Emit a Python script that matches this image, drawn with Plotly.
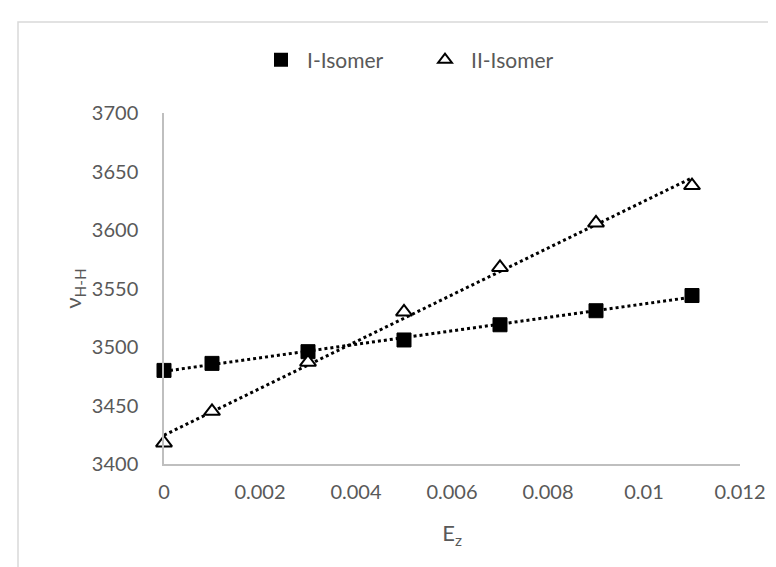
import numpy as np
import plotly.graph_objects as go

ez = [0, 0.001, 0.003, 0.005, 0.007, 0.009, 0.011]
isomer1 = [3480, 3486, 3496, 3506, 3519, 3531, 3544]
isomer2 = [3418, 3445, 3487, 3530, 3568, 3606, 3638]
x_ticks = [0, 0.002, 0.004, 0.006, 0.008, 0.01, 0.012]
x_tick_labels = ["0", "0.002", "0.004", "0.006", "0.008", "0.01", "0.012"]
y_ticks = [3400, 3450, 3500, 3550, 3600, 3650, 3700]
y_tick_labels = [str(v) for v in y_ticks]

FONT = "Lato"
GRAY = "#595959"

fig = go.Figure()

x_arr = np.array(ez)
for ys in (isomer1, isomer2):
    k, b = np.polyfit(x_arr, np.array(ys), 1)
    xt = [ez[0], ez[-1]]
    fig.add_trace(go.Scatter(
        x=xt, y=[k * v + b for v in xt], mode="lines",
        line=dict(color="black", width=3, dash="dot"),
        showlegend=False, hoverinfo="skip", cliponaxis=False))

fig.add_trace(go.Scatter(
    x=ez, y=isomer1, mode="markers", name="I-Isomer", cliponaxis=False,
    marker=dict(symbol="square", size=14, color="black",
                line=dict(color="black", width=1))))
fig.add_trace(go.Scatter(
    x=ez, y=isomer2, mode="markers", name="II-Isomer", cliponaxis=False,
    marker=dict(symbol="triangle-up", size=14, color="white",
                line=dict(color="black", width=2))))

fig.update_layout(
    width=776, height=567,
    margin=dict(l=156, r=44, t=105, b=111),
    paper_bgcolor="white", plot_bgcolor="white",
    font=dict(family=FONT, color=GRAY, size=20),
    legend=dict(orientation="h", x=(247 - 156) / 576, xanchor="left",
                y=1.151, yanchor="middle",
                font=dict(family=FONT, size=21, color=GRAY),
                itemsizing="constant", itemwidth=42,
                entrywidth=107, entrywidthmode="pixels",
                bgcolor="rgba(0,0,0,0)"),
    xaxis=dict(range=[0, 0.012], tickvals=x_ticks, ticktext=x_tick_labels,
               showgrid=False, zeroline=False, showline=True,
               linecolor="#bfbfbf", linewidth=1.5, ticks="",
               ticklabelstandoff=9,
               tickfont=dict(size=20, color=GRAY),
               title=dict(text="E<sub>z</sub>", font=dict(size=22, color=GRAY),
                          standoff=24)),
    yaxis=dict(range=[3400, 3700], tickvals=y_ticks, ticktext=y_tick_labels,
               showgrid=False, zeroline=False, showline=True,
               linecolor="#bfbfbf", linewidth=1.5, ticks="",
               ticklabelstandoff=20,
               tickfont=dict(size=20, color=GRAY),
               title=dict(text="ν<sub>H-H</sub>", font=dict(size=22, color=GRAY),
                          standoff=4)),
)

fig.add_shape(type="rect", xref="paper", yref="paper",
              x0=(10 - 156) / 576, x1=(790 - 156) / 576,
              y0=(456 - 580) / 351, y1=(456 - 14) / 351,
              line=dict(color="#d9d9d9", width=1.5), fillcolor="rgba(0,0,0,0)",
              layer="below")

fig.write_html("out.html")
